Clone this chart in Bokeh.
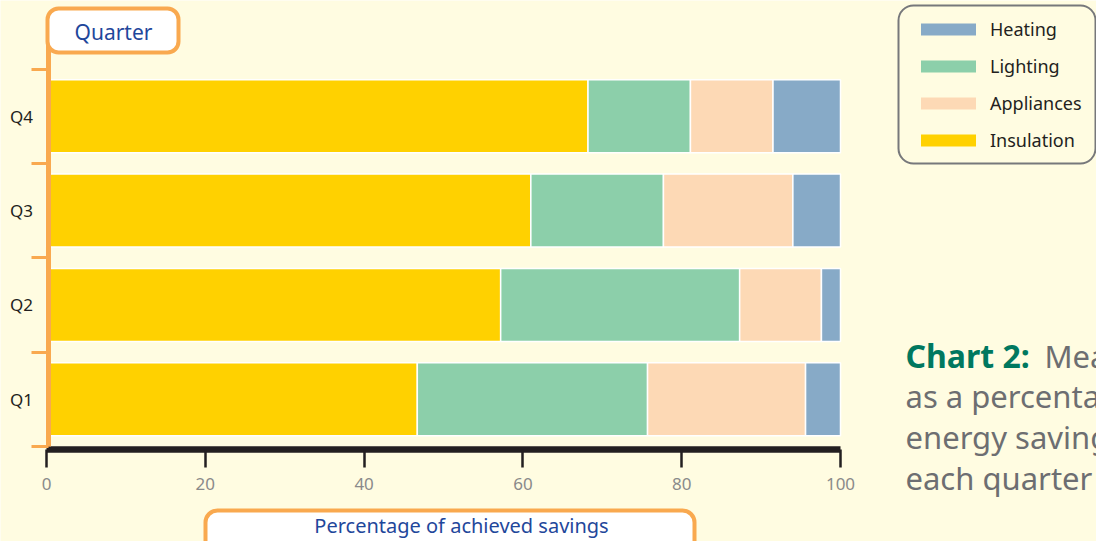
from bokeh.plotting import figure
from bokeh.models import (ColumnDataSource, Range1d, FixedTicker, BoxAnnotation,
                          Label, Legend, LegendItem)
from bokeh.embed import file_html
from bokeh.resources import INLINE

# ---------------- data ----------------
quarters = ["Q1", "Q2", "Q3", "Q4"]
series = ["Insulation", "Lighting", "Appliances", "Heating"]
insulation = [46.7, 57.2, 61.0, 68.2]
lighting = [29.0, 30.1, 16.7, 12.9]
appliances = [19.9, 10.3, 16.3, 10.4]
heating = [4.4, 2.4, 6.0, 8.5]
x_ticks = [0, 20, 40, 60, 80, 100]
legend_order = ["Heating", "Lighting", "Appliances", "Insulation"]
x_title = "Percentage of achieved savings"
y_title = "Quarter"
caption_bold = "Chart 2:"
caption_lines = ["Measured savings", "as a percentage of total",
                 "energy savings for", "each quarter"]

# ---------------- style ----------------
colors = {"Insulation": "#FFD100", "Lighting": "#8CCFAA",
          "Appliances": "#FDD9B5", "Heating": "#87AAC7"}
BG = "#FFFCE1"
ORANGE = "#F9A94F"
BLUE = "#1F479B"
DARK = "#231F20"
GREY = "#8A8A8A"
TEAL = "#00785F"
CAP_GREY = "#6D6E71"
FONT = "Noto Sans"

W, H = 1096, 541
# pixel positions of the value axis ends and category band edges
PX_A, PX_B = 46.0, 840.0        # x = 0 and x = 100
PY_A, PY_B = 446.0, 68.5        # y = 0.5 and y = 4.5
XA, XB = 0.0, 100.0
YA, YB = 0.5, 4.5
kx = (XB - XA) / (PX_B - PX_A)
ky = (YB - YA) / (PY_A - PY_B)


def dx(sx):
    return XA + (sx - PX_A) * kx


def dy(sy):
    return YA + (PY_A - sy) * ky


p = figure(width=W, height=H,
           x_range=Range1d(dx(0), dx(W)), y_range=Range1d(dy(H), dy(0)),
           output_backend="svg", toolbar_location=None,
           min_border=0, min_border_left=0, min_border_right=0,
           min_border_top=0, min_border_bottom=0,
           background_fill_color=BG, border_fill_color=BG, outline_line_color=None)
p.grid.visible = False

src = ColumnDataSource(dict(y=list(range(1, len(quarters) + 1)),
                            Insulation=insulation, Lighting=lighting,
                            Appliances=appliances, Heating=heating))
p.hbar_stack(series, y="y", height=0.774, source=src,
             fill_color=[colors[s] for s in series],
             line_color="white", line_width=1.5)

# ---------------- axes ----------------
xa = p.xaxis[0]
xa.ticker = FixedTicker(ticks=x_ticks)
xa.bounds = (XA, XB)
xa.fixed_location = dy(448.5)
xa.axis_line_color = DARK
xa.axis_line_width = 6.5
xa.major_tick_line_color = DARK
xa.major_tick_line_width = 2.5
xa.major_tick_out = 18
xa.major_tick_in = 0
xa.minor_tick_line_color = None
xa.major_label_standoff = 11
xa.major_label_text_font = FONT
xa.major_label_text_font_size = "17px"
xa.major_label_text_color = GREY

ya = p.yaxis[0]
ya.ticker = FixedTicker(ticks=list(range(1, len(quarters) + 1)),
                        minor_ticks=[i + 0.5 for i in range(len(quarters) + 1)])
ya.major_label_overrides = {i + 1: q for i, q in enumerate(quarters)}
ya.bounds = (YA, dy(40))
ya.fixed_location = dx(47.5)
ya.axis_line_color = ORANGE
ya.axis_line_width = 5
ya.major_tick_line_color = None
ya.major_tick_out = 0
ya.major_tick_in = 0
ya.minor_tick_line_color = ORANGE
ya.minor_tick_line_width = 3
ya.minor_tick_out = 17
ya.minor_tick_in = 0
ya.major_label_standoff = -2
ya.major_label_text_font = FONT
ya.major_label_text_font_size = "17px"
ya.major_label_text_color = DARK

# ---------------- axis title boxes ----------------
box_style = dict(fill_color="white", fill_alpha=1, line_color=ORANGE,
                 line_alpha=1, line_width=4, level="overlay")
p.add_layout(BoxAnnotation(left=dx(47), right=dx(178), top=dy(8), bottom=dy(52),
                           border_radius=11, **box_style))
p.add_layout(Label(x=dx(113), y=dy(31), text=y_title, text_align="center",
                   text_baseline="middle", text_font=FONT, text_font_size="21px",
                   text_color=BLUE, level="overlay"))
p.add_layout(BoxAnnotation(left=dx(205), right=dx(694), top=dy(510), bottom=dy(556),
                           border_radius=12, **box_style))
p.add_layout(Label(x=dx(461), y=dy(525), text=x_title, text_align="center",
                   text_baseline="middle", text_font=FONT, text_font_size="20px",
                   text_color=BLUE, level="overlay"))

# ---------------- legend ----------------
p.add_layout(BoxAnnotation(left=dx(898), right=dx(1095), top=dy(5), bottom=dy(163),
                           fill_alpha=0, line_color="#77787B", line_alpha=1,
                           line_width=2, border_radius=15, level="overlay"))
nan = float("nan")
items = []
for s in legend_order:
    r = p.line(x=[nan], y=[nan], line_width=12, line_cap="round",
               line_color=colors[s])
    items.append(LegendItem(label=s, renderers=[r]))
legend = Legend(items=items, location=(921, H - 152), glyph_width=55,
                glyph_height=20, label_height=20, spacing=13, padding=0, margin=0,
                label_standoff=14, border_line_alpha=0, background_fill_alpha=0,
                label_text_font=FONT, label_text_font_size="18px",
                label_text_color=DARK, label_text_baseline="middle")
p.add_layout(legend)

# ---------------- caption ----------------
p.add_layout(Label(x=dx(905), y=dy(355), text=caption_bold, text_font=FONT,
                   text_font_size="32px", text_font_style="bold", text_color=TEAL,
                   text_baseline="alphabetic"))
baselines = [355, 395, 436, 477]
starts = [1044, 905, 905, 905]
for t, b, s in zip(caption_lines, baselines, starts):
    p.add_layout(Label(x=dx(s), y=dy(b), text=t, text_font=FONT,
                       text_font_size="31px", text_color=CAP_GREY,
                       text_baseline="alphabetic"))

open("out.html", "w").write(file_html(p, INLINE))
